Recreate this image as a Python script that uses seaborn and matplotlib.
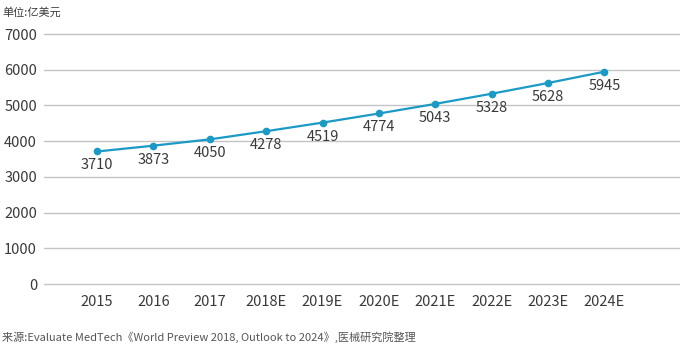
import matplotlib
matplotlib.use("Agg")
import matplotlib.pyplot as plt
import seaborn as sns
import pandas as pd

years = ["2015", "2016", "2017", "2018E", "2019E", "2020E", "2021E", "2022E", "2023E", "2024E"]
sales = [3710, 3873, 4050, 4278, 4519, 4774, 5043, 5328, 5628, 5945]
y_ticks = [0, 1000, 2000, 3000, 4000, 5000, 6000, 7000]

sns.set_theme(style="white")
plt.rcParams["font.family"] = ["Noto Sans CJK SC", "DejaVu Sans"]

line_color = "#1b9ac6"
text_color = "#3a3a3a"

df = pd.DataFrame({"year": years, "sales": sales, "pos": range(len(years))})

fig = plt.figure(figsize=(6.8, 3.47), dpi=100)
ax = fig.add_axes([44 / 680, (347 - 284) / 347, 636 / 680, 250 / 347])

for t in y_ticks:
    ax.axhline(t, color="#c4c4c4", lw=1.0, zorder=0, clip_on=False)

sns.lineplot(data=df, x="pos", y="sales", ax=ax, color=line_color, lw=1.6,
             marker="o", markersize=5.5, markeredgewidth=0, zorder=3)

for x, v in zip(df["pos"], sales):
    ax.annotate(f"{v}", (x, v), xytext=(0, -5), textcoords="offset points",
                ha="center", va="top", fontsize=10.5, color=text_color)

ax.set_xlim(-0.94, 10.34)
ax.set_ylim(0, 7000)
ax.set_xticks(range(len(years)))
ax.set_xticklabels(years)
ax.set_yticks(y_ticks)
ax.set_yticklabels([str(t) for t in y_ticks])
ax.tick_params(axis="both", length=0, labelsize=10.5, colors=text_color)
ax.tick_params(axis="x", pad=8)
ax.tick_params(axis="y", pad=5)
ax.set_xlabel("")
ax.set_ylabel("")
for s in ax.spines.values():
    s.set_visible(False)

fig.text(2 / 680, 1 - 12 / 347, "单位:亿美元", fontsize=8, color=text_color,
         va="center", ha="left")
fig.text(2 / 680, 1 - 337 / 347,
         "来源:Evaluate MedTech《World Preview 2018, Outlook to 2024》,医械研究院整理",
         fontsize=8, color="#555555", va="center", ha="left")

fig.savefig("out.png", dpi=100)
